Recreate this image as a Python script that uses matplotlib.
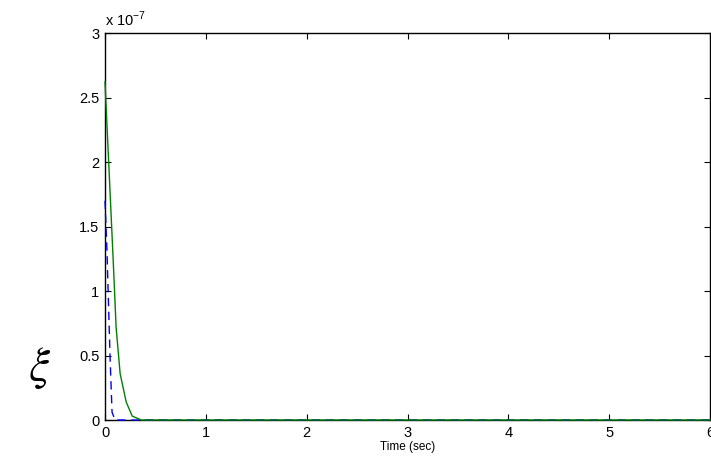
import matplotlib
matplotlib.use("Agg")
import matplotlib.pyplot as plt
import numpy as np

plt.rcParams['font.family'] = ['Liberation Sans', 'DejaVu Sans']

# data (values in units of 1e-7)
t_green = [0.0, 0.08, 0.11, 0.15, 0.21, 0.27, 0.36, 0.45, 1.0, 2.0, 3.0, 4.0, 5.0, 6.0]
v_green = [2.62, 1.26, 0.72, 0.36, 0.14, 0.03, 0.0, 0.0, 0.0, 0.0, 0.0, 0.0, 0.0, 0.0]
t_blue = [0.0, 0.02, 0.05, 0.07, 0.1, 1.0, 2.0, 3.0, 4.0, 5.0, 6.0]
v_blue = [1.70, 1.30, 0.49, 0.06, 0.0, 0.0, 0.0, 0.0, 0.0, 0.0, 0.0]

xticks = [0, 1, 2, 3, 4, 5, 6]
yticks = [0, 0.5, 1, 1.5, 2, 2.5, 3]
ytick_labels = ['0', '0.5', '1', '1.5', '2', '2.5', '3']

fig = plt.figure(figsize=(7.11, 4.68), dpi=100)
ax = fig.add_axes([105/711, 1-420/468, 605/711, 387/468])

ax.plot(t_blue, np.array(v_blue), color='#0000ff', linestyle=(0, (6, 4)), linewidth=1.0,
        zorder=3, clip_on=False)
ax.plot(t_green, np.array(v_green), color='#008000', linewidth=1.0, zorder=3.1, clip_on=False)

ax.set_xlim(0, 6)
ax.set_ylim(0, 3)
ax.set_xticks(xticks)
ax.set_yticks(yticks)
ax.set_yticklabels(ytick_labels)
ax.tick_params(direction='in', top=True, right=True, length=4, width=0.8,
               labelsize=10.5, colors='black', pad=4)
for s in ax.spines.values():
    s.set_linewidth(1.0)
ax.set_xlabel('Time (sec)', fontsize=8.5, labelpad=1)

ax.text(0.0, 1.01, r'x 10$^{\mathregular{-7}}$', transform=ax.transAxes,
        fontsize=10.5, ha='left', va='bottom')

fig.text(40/711, 1-368/468, r'$\xi$', fontsize=34, ha='center', va='center',
         math_fontfamily='stix')

fig.savefig('out.png', dpi=100)
